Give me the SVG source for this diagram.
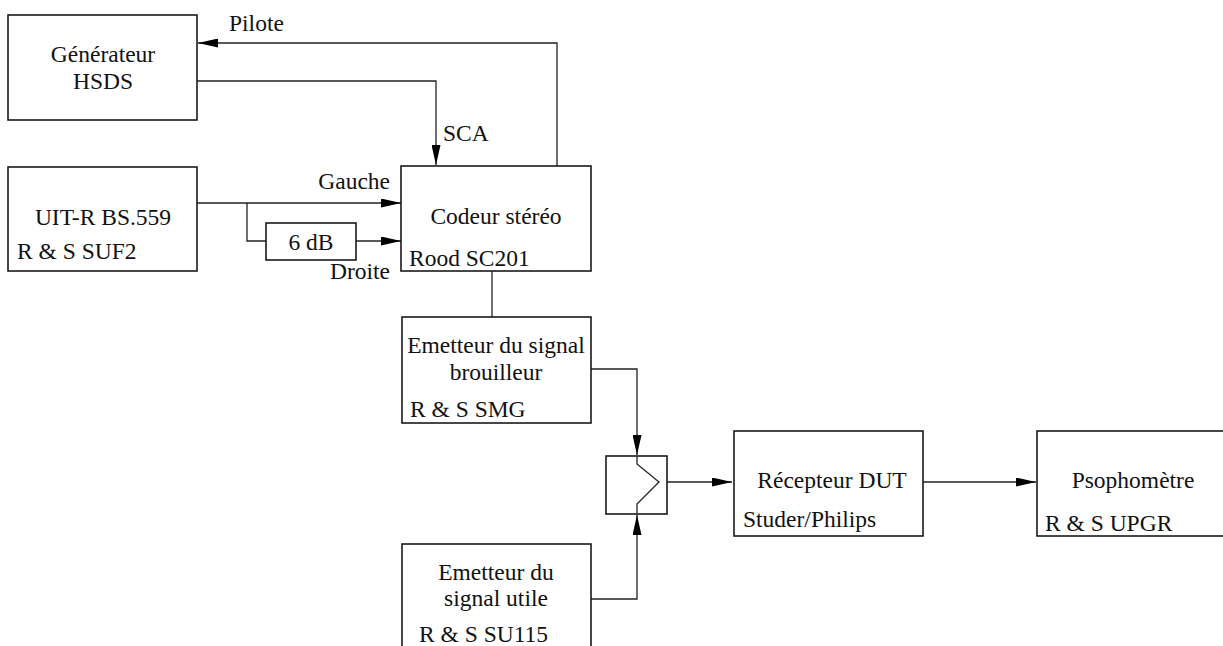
<svg xmlns="http://www.w3.org/2000/svg" width="1223" height="646" viewBox="0 0 1223 646">
<style>
.box{fill:none;stroke:#1a1a1a;stroke-width:1.6}
.ln{fill:none;stroke:#222;stroke-width:1.3}
text{font-family:"Liberation Serif","Times New Roman",serif;font-size:23.5px;fill:#111}
.c{text-anchor:middle}
</style>
<defs>
<marker id="ah" markerUnits="userSpaceOnUse" markerWidth="21" markerHeight="9" refX="20" refY="4.5" orient="auto">
<path d="M0,0 L20,4.5 L0,9 z" fill="#000"/>
</marker>
</defs>
<rect width="1223" height="646" fill="#fff"/>
<g id="connectors">
<path class="ln" d="M557,166 V43 H198" marker-end="url(#ah)"/>
<path class="ln" d="M197,81 H436 V165" marker-end="url(#ah)"/>
<path class="ln" d="M197,203 H401" marker-end="url(#ah)"/>
<path class="ln" d="M247,203 V241 H266"/>
<path class="ln" d="M356,241 H401" marker-end="url(#ah)"/>
<path class="ln" d="M492,271 V317"/>
<path class="ln" d="M591,369 H637 V455" marker-end="url(#ah)"/>
<path class="ln" d="M591,599 H637 V515" marker-end="url(#ah)"/>
<path class="ln" d="M667,482 H732" marker-end="url(#ah)"/>
<path class="ln" d="M923,482 H1036" marker-end="url(#ah)"/>
</g>
<g id="generateur">
<rect class="box" x="8" y="15" width="189" height="105"/>
<text class="c" x="103" y="62">Générateur</text>
<text class="c" x="103" y="89">HSDS</text>
</g>
<g id="uit">
<rect class="box" x="8" y="167" width="189" height="104"/>
<text class="c" x="103" y="225">UIT-R BS.559</text>
<text x="17" y="259">R &amp; S SUF2</text>
</g>
<g id="attenuateur">
<rect class="box" x="266" y="223" width="90" height="37"/>
<text class="c" x="311" y="250">6 dB</text>
</g>
<g id="labels">
<text x="229" y="31">Pilote</text>
<text x="443" y="141">SCA</text>
<text x="390" y="189" text-anchor="end">Gauche</text>
<text x="390" y="279" text-anchor="end">Droite</text>
</g>
<g id="codeur">
<rect class="box" x="401" y="166" width="190" height="105"/>
<text class="c" x="496" y="224">Codeur stéréo</text>
<text x="409" y="266">Rood SC201</text>
</g>
<g id="brouilleur">
<rect class="box" x="402" y="317" width="189" height="106"/>
<text class="c" x="496" y="353">Emetteur du signal</text>
<text class="c" x="496" y="380">brouilleur</text>
<text x="410" y="417">R &amp; S SMG</text>
</g>
<g id="combineur">
<rect class="box" x="606" y="456" width="61" height="58"/>
<path class="ln" d="M637,456 V464 L659,482 L637,504 V514"/>
</g>
<g id="utile">
<rect class="box" x="402" y="544" width="189" height="120"/>
<text class="c" x="496" y="580">Emetteur du</text>
<text class="c" x="496" y="606">signal utile</text>
<text x="419" y="642">R &amp; S SU115</text>
</g>
<g id="recepteur">
<rect class="box" x="734" y="431" width="189" height="105"/>
<text class="c" x="832" y="488">Récepteur DUT</text>
<text x="743" y="527">Studer/Philips</text>
</g>
<g id="psophometre">
<rect class="box" x="1037" y="431" width="200" height="105"/>
<text class="c" x="1133" y="488">Psophomètre</text>
<text x="1045" y="531">R &amp; S UPGR</text>
</g>
</svg>
